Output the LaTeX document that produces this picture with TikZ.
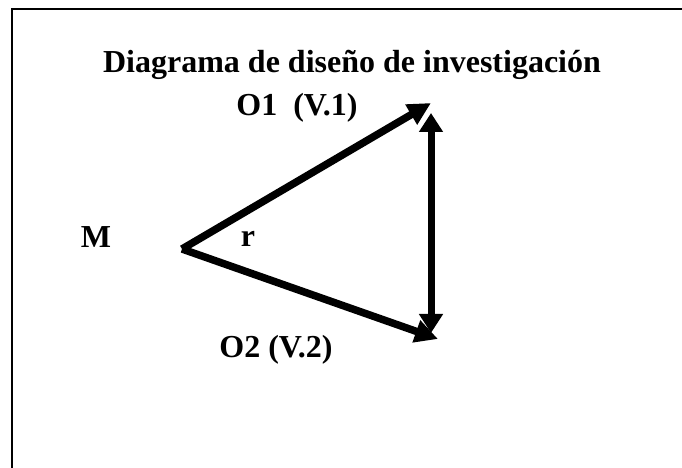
\documentclass[tikz,border=0pt]{standalone}
\usepackage{fontspec}
\setmainfont{Liberation Serif}
\usetikzlibrary{arrows.meta,positioning}

\begin{document}
\begin{tikzpicture}[x=1pt,y=1pt,
  dlabel/.style={anchor=base,inner sep=0pt,font=\fontsize{32}{38}\selectfont\bfseries},
  dvector/.style={-{Triangle[length=23pt,width=22pt]},line width=7.5pt},
  dboth/.style={{Triangle[length=19pt,width=23pt]}-{Triangle[length=19pt,width=23pt]},line width=7pt}
]
  \useasboundingbox (0,0) rectangle (682,468);
  % frame
  \draw[line width=2pt] (12,0) -- (12,459) -- (682,459);
  % labels
  \node[dlabel] (title) at (352,395) {Diagrama de diseño de investigación};
  \node[dlabel] (o1) at (297,352) {O1\ \ (V.1)};
  \node[dlabel] (o2) at (276,110) {O2 (V.2)};
  \node[dlabel] (m) at (96,220) {M};
  \node[dlabel] (r) at (248,221) {r};
  % vector end points
  \coordinate (apex) at (182,219);
  \coordinate (tip1) at (431,365);
  \coordinate (tip2) at (438,129);
  \coordinate (vtop) at (431,355);
  \coordinate (vbot) at (431,135);
  % arrows
  \draw[dvector] (apex) -- (tip1);
  \draw[dvector] (apex) -- (tip2);
  \draw[dboth] (vbot) -- (vtop);
\end{tikzpicture}
\end{document}
